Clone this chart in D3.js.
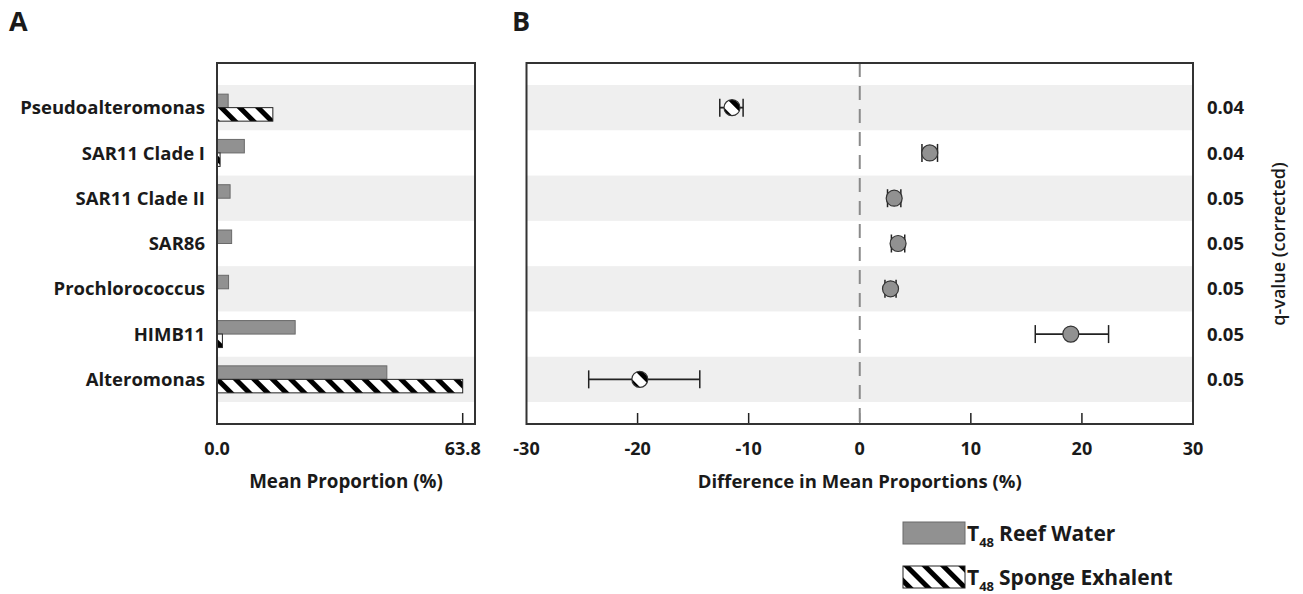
<!DOCTYPE html>
<html>
<head>
<meta charset="utf-8">
<script src="https://cdn.jsdelivr.net/npm/d3@7"></script>
<style>
  body { margin: 0; background: #fff; }
  svg text { font-family: "Open Sans", sans-serif; font-weight: 700; fill: #1a1a1a; }
</style>
</head>
<body>
<svg id="chart" width="1303" height="594"></svg>
<script>
// data
const taxa = ["Pseudoalteromonas", "SAR11 Clade I", "SAR11 Clade II", "SAR86", "Prochlorococcus", "HIMB11", "Alteromonas"];
const reefWater = [2.9, 7.1, 3.4, 3.8, 3.0, 20.3, 44.1];
const spongeExhalent = [14.5, 0.8, 0.1, 0.1, 0.1, 1.4, 63.8];
const diffMean = [-11.5, 6.3, 3.1, 3.45, 2.77, 19.0, -19.8];
const diffLow = [-12.6, 5.6, 2.5, 2.85, 2.27, 15.8, -24.4];
const diffHigh = [-10.5, 7.0, 3.7, 4.05, 3.27, 22.4, -14.4];
const qValues = ["0.04", "0.04", "0.05", "0.05", "0.05", "0.05", "0.05"];
const propTicks = [0, 63.8];
const diffTicks = [-30, -20, -10, 0, 10, 20, 30];

const svg = d3.select("#chart");
const frameTop = 63, frameBottom = 424;

// hatch pattern
const defs = svg.append("defs");
const pat = defs.append("pattern")
    .attr("id", "hatch")
    .attr("patternUnits", "userSpaceOnUse")
    .attr("width", 13).attr("height", 13)
    .attr("patternTransform", "rotate(-45)");
pat.append("rect").attr("width", 13).attr("height", 13).attr("fill", "#fff");
pat.append("rect").attr("width", 5).attr("height", 13).attr("fill", "#000");

const y = d3.scaleBand().domain(taxa).range([85, 402]).padding(0);

// ---------- panel A ----------
const xA = d3.scaleLinear().domain([0, 63.8]).range([217, 462.7]);
const aLeft = 217, aRight = 475;
const gA = svg.append("g");

gA.selectAll("rect.band")
  .data(taxa.filter((d, i) => i % 2 === 0))
  .join("rect")
    .attr("x", aLeft).attr("width", aRight - aLeft)
    .attr("y", d => y(d)).attr("height", y.bandwidth())
    .attr("fill", "#efefef");

const barH = 13.5;
gA.selectAll("rect.reef")
  .data(taxa)
  .join("rect")
    .attr("x", xA(0))
    .attr("y", d => y(d) + y.bandwidth() / 2 - barH)
    .attr("width", (d, i) => xA(reefWater[i]) - xA(0))
    .attr("height", barH)
    .attr("fill", "#919191").attr("stroke", "#6a6a6a").attr("stroke-width", 1);

gA.selectAll("rect.sponge")
  .data(taxa)
  .join("rect")
    .attr("x", xA(0))
    .attr("y", d => y(d) + y.bandwidth() / 2)
    .attr("width", (d, i) => xA(spongeExhalent[i]) - xA(0))
    .attr("height", barH)
    .attr("fill", "url(#hatch)").attr("stroke", "#222").attr("stroke-width", 1);

gA.selectAll("line.tick")
  .data(propTicks)
  .join("line")
    .attr("x1", d => xA(d)).attr("x2", d => xA(d))
    .attr("y1", frameBottom).attr("y2", frameBottom - 11)
    .attr("stroke", "#222").attr("stroke-width", 1.5);

gA.selectAll("text.tick")
  .data(propTicks)
  .join("text")
    .attr("x", d => xA(d)).attr("y", 455)
    .attr("text-anchor", "middle")
    .style("font-size", "18px")
    .text(d => d.toFixed(1));

gA.append("rect")
    .attr("x", aLeft).attr("y", frameTop)
    .attr("width", aRight - aLeft).attr("height", frameBottom - frameTop)
    .attr("fill", "none").attr("stroke", "#333").attr("stroke-width", 2);

gA.selectAll("text.cat")
  .data(taxa)
  .join("text")
    .attr("x", 205)
    .attr("y", d => y(d) + y.bandwidth() / 2)
    .attr("dy", "0.36em")
    .attr("text-anchor", "end")
    .style("font-size", "18.5px")
    .text(d => d);

gA.append("text")
    .attr("x", 346).attr("y", 488)
    .attr("text-anchor", "middle")
    .style("font-size", "18.8px")
    .text("Mean Proportion (%)");

svg.append("text").attr("x", 9).attr("y", 31).style("font-size", "27px").text("A");
svg.append("text").attr("x", 512).attr("y", 31).style("font-size", "27px").text("B");

// ---------- panel B ----------
const xB = d3.scaleLinear().domain([-30, 30]).range([526.5, 1193]);
const gB = svg.append("g");

gB.selectAll("rect.band")
  .data(taxa.filter((d, i) => i % 2 === 0))
  .join("rect")
    .attr("x", xB(-30)).attr("width", xB(30) - xB(-30))
    .attr("y", d => y(d)).attr("height", y.bandwidth())
    .attr("fill", "#efefef");

gB.append("line")
    .attr("x1", xB(0)).attr("x2", xB(0))
    .attr("y1", frameTop).attr("y2", frameBottom)
    .attr("stroke", "#8a8a8a").attr("stroke-width", 2)
    .attr("stroke-dasharray", "14,9");

gB.selectAll("line.tick")
  .data(diffTicks.slice(1, -1))
  .join("line")
    .attr("x1", d => xB(d)).attr("x2", d => xB(d))
    .attr("y1", frameBottom).attr("y2", frameBottom - 11)
    .attr("stroke", d => d === 0 ? "#8a8a8a" : "#222").attr("stroke-width", 1.5);

gB.selectAll("text.tick")
  .data(diffTicks)
  .join("text")
    .attr("x", d => xB(d)).attr("y", 455)
    .attr("text-anchor", "middle")
    .style("font-size", "18px")
    .text(d => d);

// error bars
const cap = 9;
const eb = gB.selectAll("g.err")
  .data(taxa)
  .join("g")
    .attr("transform", d => `translate(0,${y(d) + y.bandwidth() / 2})`);
eb.append("line")
    .attr("x1", (d, i) => xB(diffLow[i])).attr("x2", (d, i) => xB(diffHigh[i]))
    .attr("stroke", "#222").attr("stroke-width", 1.8);
eb.append("line")
    .attr("x1", (d, i) => xB(diffLow[i])).attr("x2", (d, i) => xB(diffLow[i]))
    .attr("y1", -cap).attr("y2", cap)
    .attr("stroke", "#222").attr("stroke-width", 1.5);
eb.append("line")
    .attr("x1", (d, i) => xB(diffHigh[i])).attr("x2", (d, i) => xB(diffHigh[i]))
    .attr("y1", -cap).attr("y2", cap)
    .attr("stroke", "#222").attr("stroke-width", 1.5);
eb.append("circle")
    .attr("cx", (d, i) => xB(diffMean[i]))
    .attr("r", 8)
    .attr("fill", (d, i) => diffMean[i] < 0 ? "url(#hatch)" : "#919191")
    .attr("stroke", "#333").attr("stroke-width", 1.2);

gB.append("rect")
    .attr("x", xB(-30)).attr("y", frameTop)
    .attr("width", xB(30) - xB(-30)).attr("height", frameBottom - frameTop)
    .attr("fill", "none").attr("stroke", "#333").attr("stroke-width", 2);

gB.selectAll("text.q")
  .data(taxa)
  .join("text")
    .attr("x", 1207)
    .attr("y", d => y(d) + y.bandwidth() / 2)
    .attr("dy", "0.36em")
    .style("font-size", "18.5px")
    .text((d, i) => qValues[i]);

gB.append("text")
    .attr("transform", "translate(1285,244) rotate(-90)")
    .attr("text-anchor", "middle")
    .style("font-size", "18px")
    .style("font-weight", "600")
    .text("q-value (corrected)");

gB.append("text")
    .attr("x", xB(0)).attr("y", 488)
    .attr("text-anchor", "middle")
    .style("font-size", "18.5px")
    .text("Difference in Mean Proportions (%)");

// ---------- legend ----------
const legendItems = ["Reef Water", "Sponge Exhalent"];
const legendFill = ["#919191", "url(#hatch)"];
const lg = svg.append("g");
const li = lg.selectAll("g")
  .data(legendItems)
  .join("g")
    .attr("transform", (d, i) => `translate(903,${522 + i * 44})`);
li.append("rect")
    .attr("width", 62).attr("height", 22)
    .attr("fill", (d, i) => legendFill[i])
    .attr("stroke", (d, i) => i === 0 ? "#6a6a6a" : "#222").attr("stroke-width", 1);
const lt = li.append("text")
    .attr("x", 64).attr("y", 19)
    .style("font-size", "21px");
lt.append("tspan").text("T");
lt.append("tspan").attr("dy", 6).style("font-size", "13px").text("48");
lt.append("tspan").attr("dy", -6).attr("dx", 5).text(d => d);
</script>
</body>
</html>
